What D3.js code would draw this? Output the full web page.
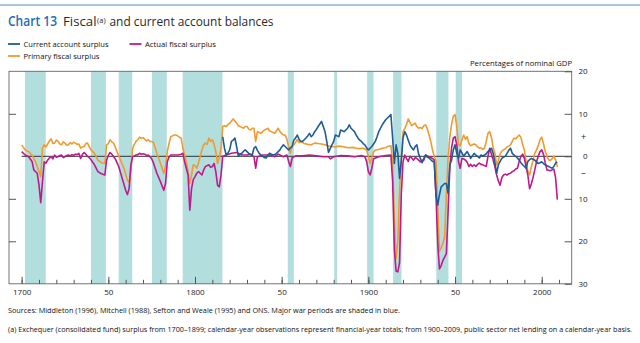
<!DOCTYPE html>
<html>
<head>
<meta charset="utf-8">
<script src="https://cdn.jsdelivr.net/npm/d3@7"></script>
<style>
  body { margin: 0; background: #fff; }
  svg { display: block; font-family: "Open Sans", "Noto Sans", sans-serif; }
</style>
</head>
<body>
<svg width="640" height="343"></svg>
<script>
// major war periods (start year, end year), shaded
var warPeriods = [[1701.9, 1713.9], [1740, 1748.6], [1756, 1763.8], [1775.2, 1783.7],
  [1792.9, 1815.8], [1853.5, 1857], [1880.3, 1882], [1899.3, 1903], [1914.3, 1919.1],
  [1939.2, 1946.2], [1950.4, 1954]];

// primary fiscal surplus, % of GDP
var primaryFiscal = [[1700,2.7],[1702,1.5],[1704,1.1],[1706,0.3],[1708,-1.3],[1710,-3.6],[1711,-4.8],[1712,1.9],[1713,2.7],[1714,2.2],[1715,2.9],[1716,3.6],[1717,4.1],[1718,3.0],[1719,3.1],[1720,3.8],[1721,3.5],[1722,2.9],[1723,2.7],[1724,3.4],[1725,3.1],[1726,2.6],[1727,2.7],[1728,3.2],[1729,2.9],[1730,3.3],[1731,3.1],[1732,2.8],[1733,2.9],[1734,1.9],[1735,2.2],[1736,2.3],[1737,3.0],[1738,3.1],[1739,2.2],[1740,1.5],[1742,0.7],[1744,-0.9],[1746,-1.5],[1748,-1.7],[1749,2.7],[1750,3.0],[1751,3.9],[1752,3.4],[1753,3.1],[1754,2.2],[1755,1.1],[1757,-0.9],[1759,-2.8],[1761,-5.6],[1762,-6.1],[1763,-3.6],[1764,1.9],[1765,2.8],[1766,3.5],[1767,3.9],[1768,4.5],[1769,4.2],[1770,4.4],[1771,4.0],[1772,3.6],[1773,3.9],[1774,3.5],[1775,3.5],[1776,3.3],[1777,2.0],[1778,0.7],[1780,-1.6],[1782,-4.0],[1783,-2.4],[1784,1.1],[1785,3.0],[1786,4.6],[1787,4.8],[1788,5.0],[1789,5.0],[1790,4.8],[1791,4.5],[1792,4.3],[1793,1.9],[1794,0.3],[1795,-1.3],[1796,-3.5],[1797,-6.4],[1798,-4.4],[1799,-2.0],[1800,-2.2],[1801,-2.8],[1802,-1.5],[1803,0],[1804,1.5],[1805,2.7],[1806,3.1],[1807,2.8],[1808,4.3],[1809,3.5],[1810,3.9],[1811,2.8],[1812,1.1],[1813,-1.7],[1814,-0.4],[1815,1.9],[1816,7.0],[1817,7.2],[1818,7.0],[1819,7.5],[1820,7.8],[1821,8.3],[1822,8.8],[1823,8.3],[1824,7.8],[1825,7.2],[1826,7.0],[1827,6.8],[1828,6.6],[1829,7.0],[1830,7.0],[1831,6.4],[1832,6.2],[1833,6.6],[1834,6.6],[1835,3.5],[1836,5.8],[1837,5.6],[1838,5.4],[1839,5.8],[1840,6.2],[1841,6.4],[1842,6.6],[1843,6.0],[1844,5.8],[1845,5.6],[1846,5.4],[1847,6.0],[1848,6.6],[1849,5.8],[1850,5.4],[1851,5.0],[1852,5.0],[1853,4.0],[1854,2.2],[1855,0.7],[1856,2.3],[1857,2.7],[1858,3.3],[1859,3.9],[1860,3.2],[1861,3.5],[1863,3.0],[1865,2.8],[1867,2.7],[1869,3.1],[1871,3.0],[1873,2.9],[1875,2.7],[1877,2.4],[1879,2.3],[1881,2.2],[1883,2.4],[1885,2.3],[1887,2.1],[1889,2.0],[1891,2.1],[1893,1.9],[1895,1.8],[1897,1.9],[1899,1.5],[1900,0],[1901,-1.7],[1902,-0.4],[1903,1.0],[1904,1.5],[1906,1.6],[1908,1.9],[1910,2.0],[1911,2.3],[1913,2.5],[1914,-1.3],[1915,-15],[1916,-24.1],[1917,-20],[1918,-8],[1919,-1],[1920,5.8],[1921,6.5],[1922,7.5],[1923,8.8],[1924,8.0],[1925,7.2],[1926,7.5],[1927,7.8],[1928,7.0],[1929,6.6],[1930,6.8],[1931,6.5],[1932,7.2],[1933,7.4],[1934,6.5],[1935,5.0],[1936,3.5],[1937,1.5],[1938,0.0],[1939,-1.0],[1940,-12],[1941,-22.4],[1942,-21.5],[1943,-20.5],[1944,-19],[1945,-9],[1946,-0.5],[1947,4.5],[1948,7.5],[1949,9.4],[1950,9.8],[1951,7.0],[1952,2.7],[1953,2.5],[1954,3.9],[1955,5.0],[1956,4.0],[1957,4.6],[1958,3.0],[1959,2.5],[1960,2.7],[1961,2.9],[1962,2.7],[1963,2.2],[1964,1.9],[1965,2.0],[1966,1.6],[1967,1.9],[1968,3.5],[1969,5.4],[1970,5.8],[1971,4.5],[1972,2.0],[1973,0.7],[1974,-2.0],[1975,-1.0],[1976,0.5],[1977,1.2],[1978,1.5],[1979,1.8],[1980,2.2],[1981,2.4],[1982,2.7],[1983,3.5],[1984,4.3],[1985,4.1],[1986,4.6],[1987,5.0],[1988,4.5],[1989,2.7],[1990,1.5],[1991,-1.3],[1992,-3.5],[1993,-4.4],[1994,-2.5],[1995,-1.0],[1996,0.7],[1997,1.5],[1998,2.5],[1999,3.9],[2000,4.5],[2001,3.0],[2002,1.2],[2003,0],[2004,-0.8],[2005,-1.0],[2006,-0.5],[2007,0],[2008,-0.8],[2009,-2.5]];

// actual fiscal surplus, % of GDP
var actualFiscal = [[1700,1.1],[1702,0.3],[1704,-0.1],[1706,-1.2],[1707,-3.2],[1709,-4.0],[1710,-6.8],[1711,-10.9],[1712,-6.0],[1713,-1.3],[1714,-1.6],[1715,-0.9],[1716,-0.4],[1717,-0.1],[1718,-0.6],[1719,0.3],[1720,-0.2],[1721,-0.1],[1722,0.2],[1723,0.3],[1724,-0.3],[1725,-0.1],[1726,0.2],[1727,0.3],[1728,0.1],[1729,0.4],[1730,0.2],[1731,0.5],[1732,0.4],[1733,0.7],[1734,-0.5],[1735,0.4],[1736,0.9],[1737,0.5],[1738,0],[1739,-0.3],[1740,-0.8],[1742,-2.0],[1744,-3.6],[1746,-4.1],[1748,-4.4],[1749,-0.9],[1750,0.2],[1751,0.9],[1752,0.5],[1753,-0.1],[1754,-0.6],[1755,-1.5],[1756,-2.4],[1758,-5.2],[1760,-8.0],[1761,-9.0],[1762,-7.6],[1763,-2.0],[1764,-0.1],[1765,0.1],[1766,0.3],[1767,0.4],[1768,0.7],[1769,0.5],[1770,0.6],[1771,0.5],[1772,0.2],[1773,0.3],[1774,-0.1],[1775,-0.6],[1776,-1.5],[1778,-4.0],[1780,-5.9],[1782,-8.0],[1783,-6.4],[1784,-1.3],[1785,-0.2],[1786,0.3],[1788,0.3],[1790,0.3],[1792,0.5],[1793,0.7],[1794,-1.3],[1796,-4.4],[1797,-12.7],[1798,-7.6],[1799,-5.5],[1800,-4.8],[1801,-4.0],[1802,-3.6],[1803,-4.0],[1804,-4.4],[1805,-3.2],[1806,-2.4],[1807,-2.2],[1808,-2.0],[1809,-2.6],[1810,-2.4],[1811,-1.7],[1812,-3.6],[1813,-6.8],[1814,-7.2],[1815,-4.4],[1816,0],[1818,0.3],[1821,0.7],[1824,0.9],[1827,0.3],[1830,0.3],[1832,0.5],[1834,-0.1],[1835,-2.8],[1836,-0.1],[1839,0.3],[1843,0.3],[1846,-0.1],[1848,0.5],[1851,-0.1],[1853,0.3],[1854,-1.2],[1855,-2.4],[1856,-0.4],[1858,0.1],[1862,0.1],[1866,0.3],[1870,0.1],[1874,-0.1],[1877,-0.1],[1878,-0.6],[1880,-0.1],[1884,0.2],[1888,0.1],[1892,-0.1],[1896,0.2],[1898,-0.1],[1899,-1.2],[1900,-3.6],[1901,-4.4],[1902,-2.8],[1903,-0.6],[1906,-0.1],[1910,0.2],[1913,0.3],[1914,-6.0],[1915,-22],[1916,-27.0],[1917,-27.2],[1918,-25],[1919,-9],[1920,-1.3],[1921,0.3],[1922,-0.5],[1923,-1.2],[1924,0],[1925,-0.4],[1926,-0.9],[1927,-0.3],[1928,-0.5],[1929,-0.9],[1930,-1.3],[1931,-1.0],[1932,-0.9],[1933,0.3],[1934,0.1],[1935,-0.1],[1936,-0.3],[1937,-0.5],[1938,-0.9],[1939,-9],[1940,-20.5],[1941,-26.5],[1942,-25.7],[1943,-24.5],[1944,-23.7],[1945,-22.9],[1946,-13],[1947,-2.4],[1948,2.0],[1949,4.3],[1950,4.6],[1951,2.7],[1952,-1.3],[1953,-2.8],[1954,-0.5],[1955,-0.6],[1956,-0.9],[1957,-1.4],[1958,-2.4],[1959,-1.9],[1960,-2.4],[1961,-2.0],[1962,-2.4],[1963,-1.9],[1964,-1.6],[1965,-1.9],[1966,-2.0],[1967,-2.2],[1968,-2.4],[1969,0],[1970,1.9],[1971,0.5],[1972,-0.9],[1973,-2.5],[1974,-4.4],[1975,-5.8],[1976,-6.8],[1977,-5.0],[1978,-4.4],[1979,-4.2],[1980,-4.4],[1981,-4.1],[1982,-4.0],[1983,-3.6],[1984,-3.4],[1985,-3.0],[1986,-2.8],[1987,-1.2],[1988,0],[1989,0.5],[1990,-0.5],[1991,-2.5],[1992,-4.4],[1993,-7.6],[1994,-6.5],[1995,-5.0],[1996,-3.2],[1997,-1.3],[1998,0],[1999,1.1],[2000,1.5],[2001,0.5],[2002,-1.5],[2003,-3.2],[2004,-3.3],[2005,-3.4],[2006,-3.2],[2007,-3.0],[2008,-5.0],[2009,-10.2]];

// current account surplus, % of GDP
var currentAccount = [[1816,4.6],[1817,1.9],[1818,0.3],[1819,0.8],[1820,1.5],[1821,3.5],[1822,3.8],[1823,4.3],[1824,2.3],[1825,0],[1826,0.5],[1827,0.7],[1828,1.2],[1829,1.5],[1830,1.1],[1831,0.7],[1832,0.4],[1833,0.3],[1834,1.9],[1835,2.3],[1836,1.4],[1837,0.7],[1838,0.3],[1839,0],[1840,-0.3],[1841,-0.4],[1842,0.2],[1843,0.7],[1844,0.5],[1845,0.3],[1846,0.4],[1847,0.7],[1848,1.1],[1849,1.5],[1850,2.2],[1851,2.7],[1852,2.3],[1853,1.9],[1854,1.5],[1855,2.0],[1856,2.3],[1857,3.8],[1858,4.3],[1859,5.0],[1860,4.0],[1861,3.5],[1862,3.5],[1863,3.9],[1864,4.3],[1865,4.8],[1866,5.4],[1867,4.6],[1868,5.0],[1869,5.8],[1870,6.3],[1871,7.0],[1872,7.6],[1873,8.2],[1874,7.0],[1875,5.8],[1876,3.5],[1877,0.9],[1878,1.8],[1879,2.7],[1880,3.5],[1881,5.0],[1882,4.8],[1883,4.6],[1884,6.2],[1885,6.0],[1886,5.8],[1887,6.2],[1888,6.6],[1889,7.4],[1890,6.6],[1891,6.2],[1892,5.8],[1893,5.0],[1894,4.3],[1895,3.8],[1896,3.5],[1897,3.0],[1898,2.7],[1899,2.0],[1900,1.5],[1901,1.9],[1902,2.3],[1903,2.9],[1904,3.5],[1905,4.6],[1906,5.8],[1907,6.6],[1908,7.4],[1909,8.0],[1910,8.6],[1911,9.0],[1912,9.4],[1913,9.8],[1914,4.3],[1915,-1.7],[1916,2.7],[1917,0.7],[1918,-5.2],[1919,-1.0],[1920,4.3],[1921,5.8],[1922,5.0],[1923,3.8],[1924,2.7],[1925,2.0],[1926,1.5],[1927,2.3],[1928,2.7],[1929,0.5],[1930,-0.5],[1931,-1.5],[1932,-0.5],[1933,0.3],[1934,-0.2],[1935,-0.4],[1936,-0.8],[1937,-1.2],[1938,-1.3],[1939,-9.1],[1940,-11.5],[1941,-9.1],[1942,-7.2],[1943,-6.8],[1944,-6.4],[1945,-6.4],[1946,-8.7],[1947,-2.0],[1948,-0.9],[1949,1.5],[1950,2.7],[1951,0.7],[1952,-0.5],[1953,1.5],[1954,0.8],[1955,0],[1956,0.6],[1957,1.1],[1958,0.4],[1959,-0.5],[1960,0.1],[1961,0.7],[1962,0.3],[1963,0],[1964,-0.4],[1965,0.3],[1966,0.1],[1967,0.3],[1968,0.6],[1969,1.1],[1970,1.5],[1971,1.9],[1972,0.7],[1973,-1.5],[1974,-4.0],[1975,-2.0],[1976,-1.2],[1977,-0.5],[1978,-0.2],[1979,0],[1980,0.7],[1981,1.4],[1982,1.9],[1983,0.7],[1984,0.3],[1985,0],[1986,-0.4],[1987,-0.9],[1988,-1.5],[1989,-2.0],[1990,-2.4],[1991,-2.8],[1992,-1.2],[1993,-0.8],[1994,-0.5],[1995,-0.7],[1996,-0.9],[1997,-1.3],[1998,-1.7],[1999,-1.5],[2000,-1.3],[2001,-1.7],[2002,-2.0],[2003,-2.2],[2004,-2.4],[2005,-2.6],[2006,-2.8],[2007,-2.4],[2008,-1.6],[2009,-1.3]];

var xLabelYears = [1700, 1750, 1800, 1850, 1900, 1950, 2000];
var xLabels = ["1700", "50", "1800", "50", "1900", "50", "2000"];
var yTickValues = [20, 10, 0, -10, -20, -30];
var yTickLabels = ["20", "10", "0", "10", "20", "30"];
var signValues = [4.5, -4];
var signLabels = ["+", "\u2013"];

var svg = d3.select("svg");
var plotLeft = 9, plotRight = 571.7, plotTop = 71.3, plotBottom = 283.8;

var x = d3.scaleLinear().domain([1692.7, 2017.3]).range([plotLeft, plotRight]);
var y = d3.scaleLinear().domain([-30, 20]).range([plotBottom, plotTop]);

// top rule
svg.append("line").attr("x1", 0).attr("x2", 640).attr("y1", 5).attr("y2", 5)
  .attr("stroke", "#8eb1cf").attr("stroke-width", 1.5);

// title
svg.append("text").attr("x", 8).attr("y", 25.5).attr("font-size", 13.5)
  .attr("font-weight", 600).attr("fill", "#1f6db3")
  .attr("textLength", 49).attr("lengthAdjust", "spacingAndGlyphs").text("Chart 13");
svg.append("text").attr("x", 63).attr("y", 25.5).attr("font-size", 13.5).attr("fill", "#2a2a2a")
  .attr("textLength", 33.5).attr("lengthAdjust", "spacingAndGlyphs").text("Fiscal");
svg.append("text").attr("x", 97).attr("y", 22.5).attr("font-size", 7.5).attr("fill", "#2a2a2a")
  .text("(a)");
svg.append("text").attr("x", 109.5).attr("y", 25.5).attr("font-size", 13.5).attr("fill", "#2a2a2a")
  .attr("textLength", 164).attr("lengthAdjust", "spacingAndGlyphs")
  .text("and current account balances");

// legend
var legend = [
  { label: "Current account surplus", color: "#1d5c96", x: 8, y: 44, w: 85 },
  { label: "Actual fiscal surplus", color: "#c0198c", x: 129.5, y: 44, w: 71 },
  { label: "Primary fiscal surplus", color: "#f39a2e", x: 8, y: 56, w: 76 }
];
legend.forEach(function(d) {
  svg.append("line").attr("x1", d.x).attr("x2", d.x + 12).attr("y1", d.y).attr("y2", d.y)
    .attr("stroke", d.color).attr("stroke-width", 1.8);
  svg.append("text").attr("x", d.x + 15.5).attr("y", d.y + 2.7).attr("font-size", 8)
    .attr("fill", "#111").attr("textLength", d.w).attr("lengthAdjust", "spacingAndGlyphs")
    .text(d.label);
});

svg.append("text").attr("x", 572).attr("y", 66).attr("text-anchor", "end")
  .attr("font-size", 8).attr("fill", "#111").attr("textLength", 102)
  .attr("lengthAdjust", "spacingAndGlyphs").text("Percentages of nominal GDP");

// war shading
svg.append("g").selectAll("rect").data(warPeriods).join("rect")
  .attr("x", function(d) { return x(d[0]); })
  .attr("width", function(d) { return x(d[1]) - x(d[0]); })
  .attr("y", plotTop).attr("height", plotBottom - plotTop)
  .attr("fill", "#b2dede");

// zero line
svg.append("line").attr("x1", x(1700)).attr("x2", plotRight).attr("y1", y(0)).attr("y2", y(0))
  .attr("stroke", "#333").attr("stroke-width", 1);

// frame
svg.append("rect").attr("x", plotLeft).attr("y", plotTop).attr("width", plotRight - plotLeft)
  .attr("height", plotBottom - plotTop).attr("fill", "none").attr("stroke", "#666").attr("stroke-width", 0.9);

// axes
var decades = d3.range(1700, 2011, 10);
svg.append("g").attr("transform", "translate(0," + plotBottom + ")")
  .call(d3.axisBottom(x).tickValues(decades).tickSize(-4).tickFormat(""))
  .call(function(g) { g.select(".domain").remove(); g.selectAll("line").attr("stroke", "#555"); });

svg.append("g").attr("transform", "translate(0," + plotBottom + ")")
  .call(d3.axisBottom(x).tickValues(xLabelYears).tickSize(-7).tickPadding(5.5)
    .tickFormat(function(d, i) { return xLabels[i]; }))
  .call(function(g) {
    g.select(".domain").remove();
    g.selectAll("line").attr("stroke", "#555");
    g.selectAll("text").attr("font-size", 8).attr("fill", "#222")
      .attr("font-family", "'Open Sans', 'Noto Sans', sans-serif");
  });

svg.append("g").attr("transform", "translate(" + plotLeft + ",0)")
  .call(d3.axisLeft(y).tickValues([10, -10, -20]).tickSize(-7).tickFormat(""))
  .call(function(g) { g.select(".domain").remove(); g.selectAll("line").attr("stroke", "#555"); });

svg.append("g").attr("transform", "translate(" + plotRight + ",0)")
  .call(d3.axisRight(y).tickValues(yTickValues).tickSize(-7)
    .tickFormat(function(d, i) { return yTickLabels[i]; }))
  .call(function(g) {
    g.select(".domain").remove();
    g.selectAll("line").attr("stroke", "#555");
    g.selectAll("text").attr("x", 16).attr("text-anchor", "end").attr("font-size", 8)
      .attr("fill", "#222").attr("font-family", "'Open Sans', 'Noto Sans', sans-serif");
  });

svg.append("g").selectAll("text").data(signValues).join("text")
  .attr("x", 583.5).attr("y", function(d) { return y(d); }).attr("dy", "0.35em")
  .attr("text-anchor", "middle").attr("font-size", 9).attr("fill", "#222")
  .text(function(d, i) { return signLabels[i]; });

// series lines
var line = d3.line()
  .x(function(d) { return x(d[0]); })
  .y(function(d) { return y(d[1]); });

[[primaryFiscal, "#f39a2e"], [actualFiscal, "#c0198c"], [currentAccount, "#1d5c96"]]
  .forEach(function(s) {
    svg.append("path").datum(s[0]).attr("d", line).attr("fill", "none")
      .attr("stroke", s[1]).attr("stroke-width", 1.6).attr("stroke-linejoin", "round");
  });

// notes
svg.append("text").attr("x", 8).attr("y", 313).attr("font-size", 7).attr("fill", "#111")
  .attr("textLength", 392).attr("lengthAdjust", "spacingAndGlyphs")
  .text("Sources:  Middleton (1996), Mitchell (1988), Sefton and Weale (1995) and ONS.  Major war periods are shaded in blue.");
svg.append("text").attr("x", 8).attr("y", 331.5).attr("font-size", 7).attr("fill", "#111")
  .attr("textLength", 624).attr("lengthAdjust", "spacingAndGlyphs")
  .text("(a)  Exchequer (consolidated fund) surplus from 1700\u20131899;  calendar-year observations represent financial-year totals;  from 1900\u20132009, public sector net lending on a calendar-year basis.");
</script>
</body>
</html>
